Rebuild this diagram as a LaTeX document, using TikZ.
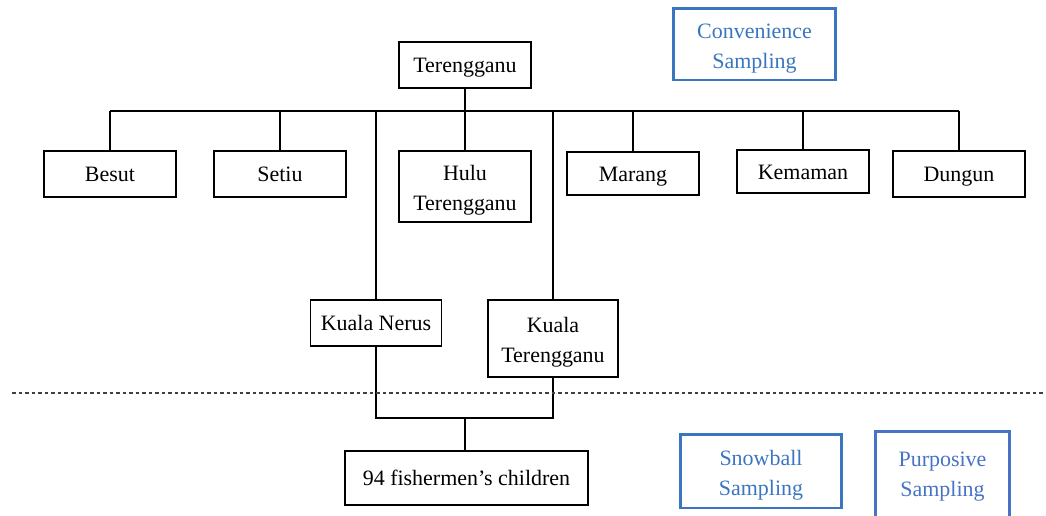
\documentclass[tikz,border=0pt]{standalone}
\usepackage{fontspec}
\setmainfont{Liberation Serif}
\definecolor{sampblue}{RGB}{58,118,192}
\definecolor{purpblue}{RGB}{72,114,196}
\tikzset{
  area/.style={draw, line width=0.6pt, minimum width=2.64cm, minimum height=0.92cm,
    align=center, inner sep=2pt, text height=8.6pt, text depth=0pt,
    font=\fontsize{12.5}{17}\selectfont},
  twoline/.style={text height=27.6pt, text depth=0pt},
  method/.style={draw=sampblue, line width=1.7pt, align=center, twoline,
    text=sampblue, font=\fontsize{12.5}{17}\selectfont},
  link/.style={line width=0.6pt}
}
\begin{document}
\begin{tikzpicture}[x=0.02cm,y=-0.02cm]
  \useasboundingbox (0,0) rectangle (1046,515);
  \draw
    (465,65) node[area] (ter){Terengganu}
    (110,174) node[area] (besut){Besut}
    (280,174) node[area] (setiu){Setiu}
    (465,186.5) node[area, twoline, minimum height=1.42cm] (hulu){Hulu\\Terengganu}
    (633,173.5) node[area, minimum height=0.86cm] (marang){Marang}
    (803,171.5) node[area, minimum height=0.86cm] (kemaman){Kemaman}
    (959,174) node[area] (dungun){Dungun}
    (376,323) node[area, minimum width=2.62cm] (nerus){Kuala Nerus}
    (553,338.5) node[area, twoline, minimum width=2.6cm, minimum height=1.54cm] (kuala){Kuala\\Terengganu}
    (466.5,478) node[area, line width=1.1pt, minimum width=4.86cm, minimum height=1.08cm] (children){94 fishermen's children};
  \node[method, minimum width=3.26cm, minimum height=1.44cm] (conv) at (754.5,44) {Convenience\\Sampling};
  \node[method, minimum width=3.24cm, minimum height=1.48cm] (snow) at (761,471) {Snowball\\Sampling};
  \node[method, draw=purpblue, text=purpblue, text depth=4.6pt, minimum width=2.7cm, minimum height=1.8cm] (purp) at (942.5,476) {Purposive\\Sampling};
  \coordinate (bus) at (465,111);
  \coordinate (join) at (465,418);
  \begin{scope}[link]
    \draw (ter.south) -- (bus);
    \draw (besut.north |- bus) -- (dungun.north |- bus);
    \foreach \n in {besut,setiu,hulu,marang,kemaman,dungun,nerus,kuala}
      \draw (\n.north) -- (\n.north |- bus);
    \draw (nerus.south) -- (nerus.south |- join) -- (kuala.south |- join) -- (kuala.south);
    \draw (join) -- (join |- children.north);
  \end{scope}
  \draw[line width=0.9pt, black!75, dash pattern=on 2.2pt off 1.5pt] (12,393) -- (1046,393);
\end{tikzpicture}
\end{document}
